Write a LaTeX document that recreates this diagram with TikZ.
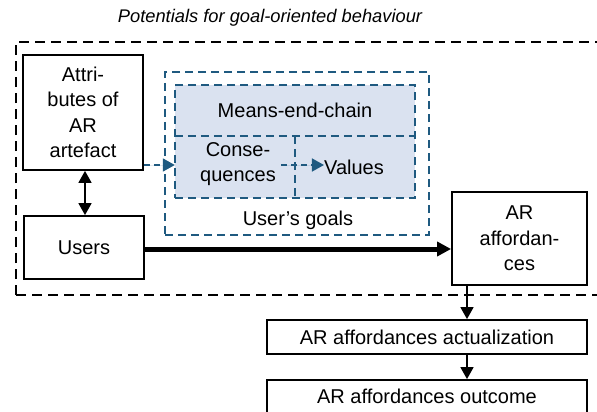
\documentclass[tikz,border=0pt]{standalone}
\usepackage{fontspec}
\setmainfont{Liberation Sans}
\usetikzlibrary{arrows.meta,positioning,fit}
\definecolor{goalblue}{HTML}{1F5A80}
\definecolor{goalfill}{HTML}{DAE2F0}
\begin{document}
\begin{tikzpicture}[x=1pt,y=-1pt,
  blackbox/.style={draw=black,line width=1.8pt,fill=white,inner sep=2pt,align=center,font=\fontsize{20}{25.5}\selectfont},
  bluedash/.style={draw=goalblue,line width=1.6pt,dash pattern=on 8pt off 5pt},
  txt/.style={font=\fontsize{20}{25}\selectfont,align=center,inner sep=0pt},
  arr/.style={-{Triangle[length=12pt,width=13pt]},line width=1.6pt},
  bluearr/.style={-{Triangle[length=12pt,width=13pt]},line width=1.6pt,draw=goalblue,fill=goalblue,dash pattern=on 6pt off 4pt}]
\useasboundingbox (0,0) rectangle (597,412);
\clip (0,0) rectangle (597,412);
% title
\node[txt,font=\fontsize{18.3}{20}\selectfont\itshape] (title) at (270,18) {Potentials for goal-oriented behaviour};
% outer dashed frame
\draw[line width=1.8pt,dash pattern=on 10pt off 6pt] (16,295) -- (16,42) -- (605,42);
\draw[line width=1.8pt,dash pattern=on 10pt off 6pt] (16,295) -- (605,295);
% user's goals
\node[bluedash,minimum width=264pt,minimum height=163pt,inner sep=0pt] (goals) at (297,153.5) {};
\node[txt] (goalslbl) at (298,220) {User’s goals};
\node[bluedash,fill=goalfill,minimum width=240pt,minimum height=113pt,inner sep=0pt] (mec) at (295,141.5) {};
\node[txt] (meclbl) at (295,110) {Means-end-chain};
\node[minimum width=120pt,minimum height=62pt,inner sep=0pt] (cons) at (235,167) {};
\node[minimum width=120pt,minimum height=62pt,inner sep=0pt] (vals) at (355,167) {};
\draw[bluedash] (cons.north west) -- (vals.north east);
\draw[bluedash] (cons.north east) -- (cons.south east);
\node[txt] (constxt) at (238,164) {Conse-\\quences};
\node[txt] (valtxt) at (354,167) {Values};
% black boxes
\node[blackbox,minimum width=120pt,minimum height=115pt] (attr) at (83,112.5) {Attri-\\butes of\\AR\\artefact};
\node[blackbox,minimum width=120pt,minimum height=63pt] (users) at (84,247.5) {Users};
\node[blackbox,minimum width=135pt,minimum height=93pt] (aff) at (519.5,238.5) {AR\\affordan-\\ces};
\node[blackbox,minimum width=320pt,minimum height=34pt] (act) at (427,337) {AR affordances actualization};
\node[blackbox,minimum width=320pt,minimum height=38pt] (out) at (427,399) {};
\node[txt] (outtxt) at (427,396) {AR affordances outcome};
% connectors
\draw[{Triangle[length=12pt,width=13pt]}-{Triangle[length=12pt,width=13pt]},line width=1.6pt] (attr.south -| 85,0) -- (users.north -| 85,0);
\draw[bluearr] (attr.east |- 0,165) -- (cons.west |- 0,165);
\draw[bluearr] (cons.east |- 0,165) ++(-14,0) -- (valtxt.west |- 0,165);
\draw[-{Triangle[length=14pt,width=14pt]},line width=5pt] (users.east |- 0,249) -- (aff.west |- 0,249);
\draw[arr] (aff.south -| 467,0) -- (act.north -| 467,0);
\draw[arr] (act.south -| 467,0) -- (out.north -| 467,0);
\end{tikzpicture}
\end{document}
